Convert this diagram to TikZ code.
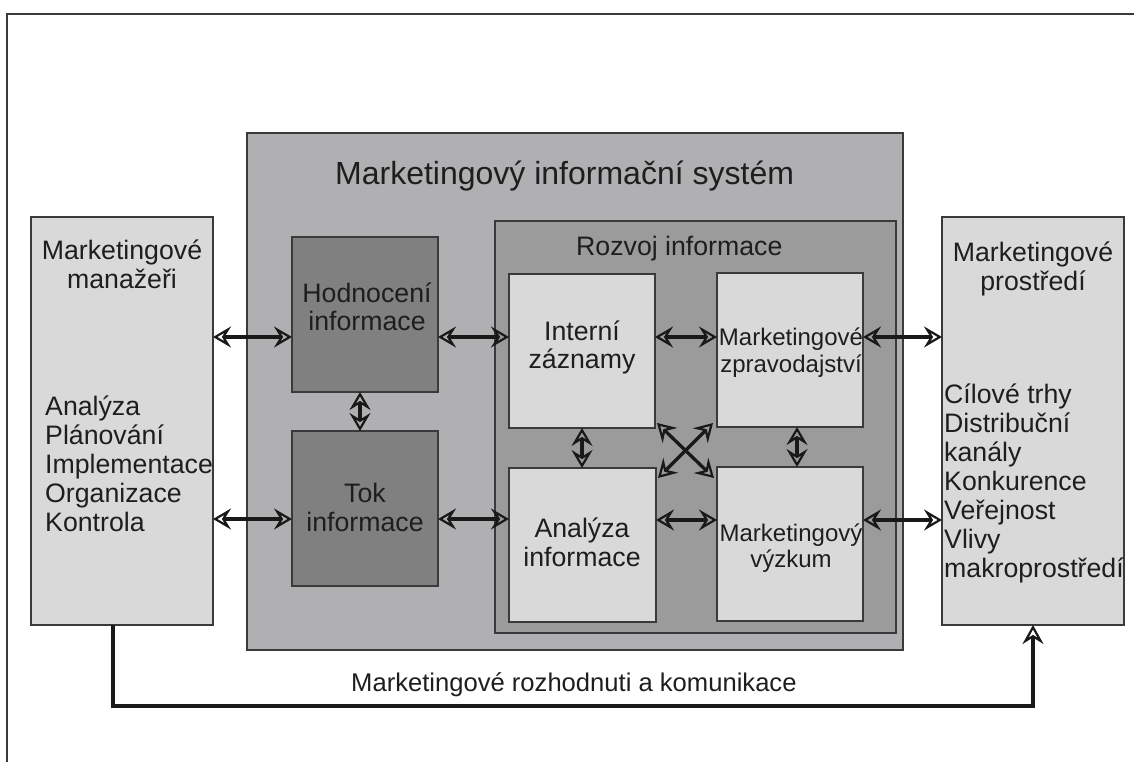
\documentclass[tikz,border=0pt]{standalone}
\usepackage{fontspec}
\setmainfont{Liberation Sans}
\usetikzlibrary{arrows.meta}

\definecolor{boxlight}{HTML}{D9D9D9}
\definecolor{boxmis}{HTML}{B0B0B2}
\definecolor{boxdev}{HTML}{9B9B9B}
\definecolor{boxdark}{HTML}{808080}
\definecolor{edge}{HTML}{3A3A3A}
\definecolor{ink}{HTML}{1E1E1E}

\tikzset{
  panel/.style={draw=edge, line width=1.5pt, inner sep=0pt, outer sep=0pt, anchor=north west},
  txt/.style={text=ink, inner sep=0pt, anchor=base, font=\fontsize{26.7}{29}\selectfont},
  txtl/.style={txt, anchor=base west},
  txts/.style={txt, font=\fontsize{24}{27}\selectfont},
  link/.style={draw=black!90, line width=3.3pt,
    {Stealth[open, length=18pt, width=21pt, inset=6.5pt, line width=2.2pt]}-{Stealth[open, length=18pt, width=21pt, inset=6.5pt, line width=2.2pt]}},
  flow/.style={draw=black!90, line width=3.3pt,
    -{Stealth[open, length=19pt, width=21pt, inset=6.5pt, line width=2.2pt]}},
}

\begin{document}
\begin{tikzpicture}[x=1pt, y=-1pt]
  \useasboundingbox (0,0) rectangle (1134,762);
  % page frame
  \draw[edge, line width=1.5pt] (7,780) -- (7,14) -- (1150,14);

  % outer blocks
  \node[panel, fill=boxlight, minimum width=182pt, minimum height=408pt] (mgr) at (31,217) {};
  \node[panel, fill=boxlight, minimum width=182pt, minimum height=408pt] (env) at (942,217) {};
  \node[panel, fill=boxmis, minimum width=656pt, minimum height=517pt] (mis) at (247,133) {};
  \node[panel, fill=boxdev, minimum width=401pt, minimum height=412pt] (dev) at (495,221) {};

  % information blocks
  \node[panel, fill=boxdark, minimum width=146pt, minimum height=155pt] (hod) at (292,237) {};
  \node[panel, fill=boxdark, minimum width=146pt, minimum height=155pt] (tok) at (292,431) {};
  \node[panel, fill=boxlight, minimum width=146pt, minimum height=154pt] (int) at (509,274) {};
  \node[panel, fill=boxlight, minimum width=146pt, minimum height=154pt] (zpr) at (717,273) {};
  \node[panel, fill=boxlight, minimum width=147pt, minimum height=154pt] (ana) at (509,468) {};
  \node[panel, fill=boxlight, minimum width=146pt, minimum height=154pt] (vyz) at (717,467) {};

  % titles
  \node[txt, font=\fontsize{32}{36}\selectfont, anchor=base west] (tmis) at (335,185) {Marketingový informační systém};
  \node[txtl] (tdev) at (576,255) {Rozvoj informace};

  % manager block
  \node[txt] (tmgr1) at (122,259) {Marketingové};
  \node[txt] (tmgr2) at (122,288) {manažeři};
  \node[txtl] (lm1) at (45,415) {Analýza};
  \node[txtl] (lm2) at (45,444) {Plánování};
  \node[txtl] (lm3) at (45,473) {Implementace};
  \node[txtl] (lm4) at (45,502) {Organizace};
  \node[txtl] (lm5) at (45,531) {Kontrola};

  % environment block
  \node[txt] (tenv1) at (1033,261) {Marketingové};
  \node[txt] (tenv2) at (1033,290) {prostředí};
  \node[txtl] (le1) at (944,403) {Cílové trhy};
  \node[txtl] (le2) at (944,432) {Distribuční};
  \node[txtl] (le3) at (944,461) {kanály};
  \node[txtl] (le4) at (944,490) {Konkurence};
  \node[txtl] (le5) at (944,519) {Veřejnost};
  \node[txtl] (le6) at (944,548) {Vlivy};
  \node[txtl] (le7) at (944,577) {makroprostředí};

  % block texts
  \node[txt] (thod1) at (367,302) {Hodnocení};
  \node[txt] (thod2) at (367,330) {informace};
  \node[txt] (ttok1) at (365,502) {Tok};
  \node[txt] (ttok2) at (365,531) {informace};
  \node[txt] (tint1) at (582,340) {Interní};
  \node[txt] (tint2) at (582,368) {záznamy};
  \node[txts] (tzpr1) at (791,345) {Marketingové};
  \node[txts] (tzpr2) at (791,372) {zpravodajství};
  \node[txt] (tana1) at (582,537) {Analýza};
  \node[txt] (tana2) at (582,566) {informace};
  \node[txts] (tvyz1) at (791,541) {Marketingový};
  \node[txts] (tvyz2) at (791,567) {výzkum};

  % bottom label
  \node[txtl, font=\fontsize{25.6}{29}\selectfont] (tbot) at (351,691) {Marketingové rozhodnuti a komunikace};

  % horizontal links
  \draw[link] (mgr.east |- 0,337) -- (hod.west |- 0,337);
  \draw[link] (mgr.east |- 0,519) -- (tok.west |- 0,519);
  \draw[link] (hod.east |- 0,337) -- (int.west |- 0,337);
  \draw[link] (tok.east |- 0,519) -- (ana.west |- 0,519);
  \draw[link] (int.east |- 0,337) -- (zpr.west |- 0,337);
  \draw[link] (ana.east |- 0,520) -- (vyz.west |- 0,520);
  \draw[link] (zpr.east |- 0,337) -- (env.west |- 0,337);
  \draw[link] (vyz.east |- 0,520) -- (env.west |- 0,520);

  % vertical links
  \draw[link] (hod.south -| 360,0) -- (tok.north -| 360,0);
  \draw[link] (int.south -| 582,0) -- (ana.north -| 582,0);
  \draw[link] (zpr.south -| 797,0) -- (vyz.north -| 797,0);

  % diagonal links
  \coordinate (xul) at (657,423);
  \coordinate (xur) at (713,423);
  \coordinate (xll) at (658,478);
  \coordinate (xlr) at (714,478);
  \draw[link] (xul) -- (xlr);
  \draw[link] (xur) -- (xll);

  % decisions and communication
  \draw[flow] (mgr.south -| 113,0) -- (113,706) -- (1033,706) -- (env.south -| 1033,0);
\end{tikzpicture}
\end{document}
